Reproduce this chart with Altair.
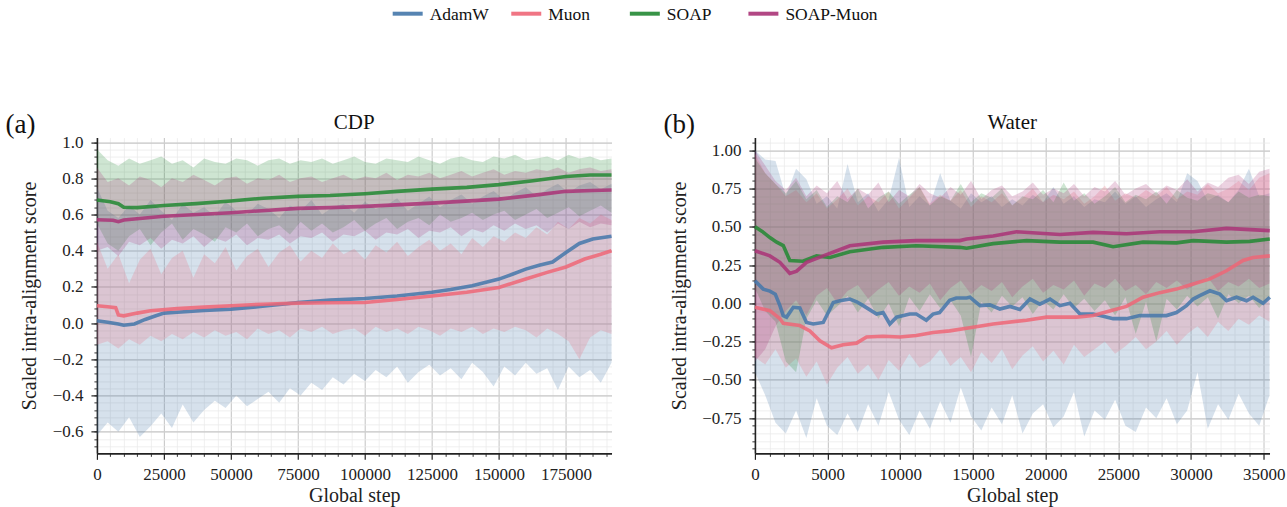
import altair as alt
import pandas as pd

SERIES = ["AdamW", "Muon", "SOAP", "SOAP-Muon"]
COLORS = ["#4477AA", "#EE6677", "#228833", "#AA3377"]
FONT = "Liberation Serif"

# ---------------- Panel (a): CDP ----------------
a_band_step = 4000
a_adamw_hi = [0.75, 0.62, 0.58, 0.65, 0.60, 0.68, 0.62, 0.57, 0.66, 0.61, 0.64, 0.59, 0.67, 0.62, 0.60, 0.66, 0.63, 0.58, 0.65, 0.62, 0.68, 0.60, 0.64, 0.66, 0.61, 0.67, 0.63, 0.65, 0.69, 0.62, 0.66, 0.70, 0.64, 0.68, 0.71, 0.66, 0.70, 0.73, 0.68, 0.72, 0.75, 0.70, 0.74, 0.77, 0.72, 0.76, 0.78, 0.74, 0.77]
a_adamw_lo = [-0.62, -0.55, -0.60, -0.52, -0.63, -0.57, -0.50, -0.58, -0.45, -0.55, -0.48, -0.43, -0.47, -0.40, -0.46, -0.42, -0.38, -0.44, -0.36, -0.40, -0.33, -0.37, -0.30, -0.34, -0.28, -0.32, -0.26, -0.30, -0.24, -0.33, -0.27, -0.23, -0.29, -0.25, -0.31, -0.22, -0.27, -0.35, -0.24, -0.29, -0.22, -0.28, -0.25, -0.37, -0.24, -0.30, -0.26, -0.33, -0.22]
a_muon_hi = [0.45, 0.30, 0.38, 0.22, 0.35, 0.41, 0.27, 0.36, 0.40, 0.25, 0.38, 0.33, 0.42, 0.29, 0.37, 0.41, 0.31, 0.39, 0.43, 0.34, 0.40, 0.36, 0.44, 0.38, 0.41, 0.35, 0.43, 0.39, 0.45, 0.37, 0.42, 0.46, 0.40, 0.44, 0.38, 0.47, 0.42, 0.48, 0.45, 0.50, 0.47, 0.53, 0.49, 0.56, 0.52, 0.58, 0.55, 0.60, 0.57]
a_muon_lo = [-0.12, -0.10, -0.14, -0.09, -0.12, -0.07, -0.10, -0.06, -0.09, -0.05, -0.08, -0.04, -0.07, -0.05, -0.09, -0.03, -0.06, -0.04, -0.08, -0.03, -0.05, -0.02, -0.06, -0.04, -0.03, -0.07, -0.02, -0.05, -0.03, -0.06, -0.02, -0.04, -0.07, -0.03, -0.05, -0.02, -0.06, -0.03, -0.05, -0.02, -0.04, -0.08, -0.03, -0.06, -0.10, -0.20, -0.08, -0.04, -0.06]
a_soap_hi = [0.96, 0.90, 0.87, 0.91, 0.88, 0.90, 0.92, 0.88, 0.90, 0.86, 0.91, 0.89, 0.88, 0.91, 0.90, 0.87, 0.90, 0.91, 0.88, 0.90, 0.89, 0.91, 0.88, 0.90, 0.92, 0.89, 0.88, 0.91, 0.90, 0.89, 0.92, 0.90, 0.88, 0.91, 0.92, 0.90, 0.89, 0.92, 0.91, 0.93, 0.90, 0.91, 0.92, 0.90, 0.93, 0.91, 0.92, 0.90, 0.91]
a_soap_lo = [0.55, 0.44, 0.40, 0.48, 0.52, 0.43, 0.50, 0.55, 0.46, 0.52, 0.49, 0.45, 0.53, 0.50, 0.55, 0.48, 0.52, 0.54, 0.49, 0.56, 0.51, 0.55, 0.50, 0.53, 0.57, 0.51, 0.55, 0.58, 0.52, 0.56, 0.58, 0.54, 0.60, 0.56, 0.58, 0.61, 0.57, 0.60, 0.62, 0.57, 0.60, 0.63, 0.58, 0.61, 0.64, 0.59, 0.62, 0.65, 0.61]
a_sm_hi = [0.86, 0.78, 0.80, 0.76, 0.81, 0.79, 0.75, 0.80, 0.78, 0.82, 0.79, 0.76, 0.80, 0.81, 0.77, 0.80, 0.79, 0.82, 0.78, 0.80, 0.81, 0.78, 0.80, 0.82, 0.79, 0.81, 0.80, 0.83, 0.79, 0.82, 0.81, 0.83, 0.80, 0.82, 0.84, 0.81, 0.83, 0.85, 0.82, 0.84, 0.83, 0.85, 0.84, 0.86, 0.83, 0.85, 0.86, 0.84, 0.85]
a_sm_lo = [0.40, 0.42, 0.37, 0.45, 0.43, 0.47, 0.41, 0.46, 0.44, 0.48, 0.42, 0.47, 0.45, 0.49, 0.43, 0.47, 0.46, 0.49, 0.44, 0.48, 0.47, 0.50, 0.45, 0.49, 0.48, 0.51, 0.46, 0.50, 0.49, 0.52, 0.47, 0.51, 0.50, 0.53, 0.48, 0.52, 0.50, 0.54, 0.51, 0.55, 0.52, 0.54, 0.50, 0.55, 0.52, 0.56, 0.53, 0.55, 0.54]

a_adamw_x = [0, 4000, 8000, 10000, 14000, 18000, 22000, 25000, 30000, 40000, 50000, 60000, 70000, 75000, 87000, 100000, 112000, 125000, 132000, 140000, 150000, 155000, 160000, 165000, 170000, 175000, 180000, 185000, 192000]
a_adamw_y = [0.013, 0.005, -0.005, -0.012, -0.005, 0.02, 0.04, 0.055, 0.06, 0.07, 0.077, 0.09, 0.105, 0.114, 0.127, 0.136, 0.15, 0.17, 0.185, 0.206, 0.243, 0.27, 0.298, 0.32, 0.337, 0.39, 0.44, 0.465, 0.48]
a_muon_x = [0, 4000, 7000, 8000, 10000, 15000, 20000, 30000, 40000, 50000, 62000, 75000, 87000, 100000, 112000, 125000, 138000, 150000, 160000, 168000, 175000, 182000, 188000, 192000]
a_muon_y = [0.096, 0.09, 0.085, 0.045, 0.04, 0.055, 0.068, 0.08, 0.088, 0.096, 0.104, 0.11, 0.112, 0.114, 0.13, 0.15, 0.17, 0.197, 0.243, 0.28, 0.31, 0.354, 0.38, 0.40]
a_soap_x = [0, 5000, 8000, 10000, 15000, 25000, 37000, 50000, 62000, 75000, 87000, 100000, 112000, 125000, 138000, 150000, 162000, 175000, 184000, 192000]
a_soap_y = [0.68, 0.67, 0.66, 0.64, 0.638, 0.65, 0.66, 0.675, 0.69, 0.70, 0.705, 0.715, 0.728, 0.74, 0.75, 0.765, 0.785, 0.81, 0.818, 0.818]
a_sm_x = [0, 6000, 8000, 10000, 25000, 50000, 75000, 87000, 100000, 125000, 150000, 165000, 175000, 185000, 192000]
a_sm_y = [0.571, 0.568, 0.56, 0.57, 0.59, 0.61, 0.634, 0.638, 0.645, 0.663, 0.685, 0.71, 0.728, 0.733, 0.735]

# ---------------- Panel (b): Water ----------------
b_band_step = 708
b_adamw_hi = [1.00, 0.94, 0.93, 0.70, 0.88, 0.81, 0.65, 0.70, 0.62, 0.91, 0.66, 0.72, 0.60, 0.68, 0.95, 0.63, 0.70, 0.64, 0.85, 0.67, 0.62, 0.72, 0.66, 0.70, 0.63, 0.68, 0.64, 0.71, 0.66, 0.76, 0.65, 0.70, 0.63, 0.68, 0.66, 0.73, 0.65, 0.70, 0.63, 0.68, 0.72, 0.66, 0.85, 0.80, 0.67, 0.71, 0.66, 0.74, 0.88, 0.70, 0.72]
b_adamw_lo = [-0.45, -0.60, -0.78, -0.85, -0.70, -0.88, -0.62, -0.80, -0.86, -0.72, -0.84, -0.66, -0.80, -0.58, -0.76, -0.86, -0.70, -0.82, -0.64, -0.78, -0.55, -0.74, -0.83, -0.68, -0.79, -0.60, -0.85, -0.72, -0.66, -0.81, -0.74, -0.58, -0.87, -0.70, -0.76, -0.63, -0.80, -0.84, -0.68, -0.75, -0.62, -0.79, -0.70, -0.45, -0.82, -0.66, -0.76, -0.59, -0.72, -0.80, -0.60]
b_muon_hi = [0.98, 0.85, 0.78, 0.70, 0.74, 0.66, 0.72, 0.62, 0.68, 0.75, 0.64, 0.70, 0.66, 0.73, 0.62, 0.69, 0.76, 0.65, 0.71, 0.67, 0.74, 0.63, 0.70, 0.66, 0.72, 0.64, 0.69, 0.75, 0.66, 0.71, 0.68, 0.73, 0.65, 0.70, 0.77, 0.67, 0.72, 0.69, 0.74, 0.70, 0.76, 0.68, 0.73, 0.71, 0.78, 0.72, 0.75, 0.80, 0.74, 0.82, 0.85]
b_muon_lo = [-0.35, -0.40, -0.30, -0.42, -0.36, -0.48, -0.38, -0.53, -0.42, -0.35, -0.46, -0.40, -0.50, -0.37, -0.44, -0.33, -0.42, -0.38, -0.30, -0.41, -0.35, -0.45, -0.32, -0.39, -0.30, -0.43, -0.34, -0.28, -0.38, -0.31, -0.40, -0.27, -0.35, -0.30, -0.25, -0.33, -0.28, -0.22, -0.30, -0.25, -0.18, -0.27, -0.20, -0.15, -0.22, -0.12, -0.18, -0.10, -0.14, -0.08, -0.12]
b_soap_hi = [0.95, 0.85, 0.78, 0.72, 0.80, 0.68, 0.74, 0.63, 0.70, 0.66, 0.75, 0.62, 0.69, 0.73, 0.65, 0.71, 0.76, 0.64, 0.70, 0.67, 0.78, 0.66, 0.72, 0.69, 0.75, 0.64, 0.70, 0.68, 0.74, 0.66, 0.79, 0.67, 0.72, 0.65, 0.70, 0.76, 0.66, 0.71, 0.68, 0.73, 0.65, 0.74, 0.69, 0.67, 0.72, 0.70, 0.66, 0.73, 0.69, 0.71, 0.70]
b_soap_lo = [0.10, -0.05, -0.12, -0.38, -0.45, -0.10, 0.02, -0.08, -0.02, 0.05, -0.06, 0.03, -0.10, 0.00, -0.15, 0.04, -0.05, 0.06, -0.03, 0.02, -0.08, -0.35, 0.01, -0.06, 0.05, -0.02, 0.04, -0.07, 0.02, -0.04, 0.06, -0.03, 0.03, -0.05, 0.02, -0.08, 0.04, -0.20, 0.01, -0.25, 0.03, -0.04, 0.05, -0.02, 0.04, -0.10, 0.06, 0.00, 0.05, -0.03, 0.04]
b_sm_hi = [1.00, 0.90, 0.80, 0.74, 0.82, 0.70, 0.77, 0.72, 0.80, 0.68, 0.75, 0.71, 0.79, 0.66, 0.74, 0.70, 0.78, 0.72, 0.69, 0.76, 0.71, 0.80, 0.68, 0.74, 0.77, 0.70, 0.73, 0.79, 0.71, 0.75, 0.72, 0.78, 0.70, 0.76, 0.73, 0.80, 0.71, 0.75, 0.78, 0.72, 0.77, 0.74, 0.81, 0.73, 0.79, 0.76, 0.82, 0.84, 0.78, 0.86, 0.88]
b_sm_lo = [-0.38, -0.30, -0.15, -0.05, 0.02, -0.08, 0.05, 0.10, 0.00, 0.08, 0.12, 0.03, 0.09, 0.14, 0.05, 0.11, 0.07, 0.13, 0.02, 0.10, 0.15, 0.06, 0.12, 0.08, 0.14, 0.04, 0.11, 0.16, 0.07, 0.12, 0.09, 0.15, 0.05, 0.13, 0.10, 0.16, 0.08, 0.12, 0.06, 0.14, 0.10, 0.15, 0.09, 0.13, 0.17, 0.08, 0.14, 0.11, 0.16, 0.10, 0.13]

b_adamw_x = [0, 570, 1030, 1400, 1720, 1950, 2180, 2640, 3090, 3550, 4010, 4700, 5390, 5850, 6530, 7000, 7450, 8370, 8820, 9280, 9740, 10650, 11100, 11790, 12250, 12700, 13400, 13850, 14560, 14790, 15480, 16160, 16850, 17540, 18230, 18920, 19600, 20300, 20980, 21670, 22360, 23270, 23960, 24640, 25560, 26480, 27400, 28310, 29000, 29690, 30150, 30600, 31300, 31980, 32440, 33130, 33820, 34270, 34960, 35420]
b_adamw_y = [0.148, 0.093, 0.08, 0.06, -0.015, -0.08, -0.09, -0.026, -0.03, -0.125, -0.135, -0.125, 0.006, 0.017, 0.028, 0.01, -0.015, -0.07, -0.06, -0.135, -0.09, -0.07, -0.07, -0.11, -0.07, -0.06, 0.02, 0.035, 0.035, 0.04, -0.015, -0.01, -0.037, -0.02, -0.04, 0.028, -0.005, 0.028, -0.015, 0.0, -0.07, -0.07, -0.085, -0.10, -0.10, -0.08, -0.08, -0.08, -0.06, -0.015, 0.028, 0.05, 0.082, 0.06, 0.017, 0.04, 0.017, 0.04, 0.0, 0.04]
b_muon_x = [0, 1030, 1720, 1950, 3090, 3780, 4470, 5270, 6070, 6990, 7680, 8820, 9970, 11100, 12250, 13400, 14780, 16390, 18690, 20060, 22130, 23270, 24400, 25560, 26700, 27850, 29000, 30150, 31300, 32440, 33580, 34270, 35420]
b_muon_y = [-0.026, -0.048, -0.1, -0.13, -0.145, -0.18, -0.245, -0.29, -0.27, -0.26, -0.22, -0.215, -0.22, -0.21, -0.19, -0.18, -0.16, -0.135, -0.11, -0.09, -0.09, -0.08, -0.05, -0.02, 0.04, 0.07, 0.093, 0.126, 0.16, 0.213, 0.28, 0.30, 0.31]
b_soap_x = [0, 500, 1030, 1500, 1950, 2400, 3300, 3700, 4240, 5160, 6530, 8820, 11100, 14100, 14560, 16390, 18690, 20980, 23270, 24640, 26700, 29000, 30150, 32440, 34040, 35420]
b_soap_y = [0.50, 0.47, 0.43, 0.40, 0.377, 0.28, 0.275, 0.29, 0.31, 0.30, 0.337, 0.366, 0.376, 0.366, 0.36, 0.39, 0.41, 0.40, 0.40, 0.37, 0.40, 0.395, 0.41, 0.40, 0.405, 0.42]
b_sm_x = [0, 1030, 1720, 2400, 2870, 3550, 4700, 6530, 8820, 11100, 14100, 14560, 16390, 18000, 20980, 23270, 25560, 27850, 30150, 32440, 35420]
b_sm_y = [0.344, 0.31, 0.268, 0.196, 0.21, 0.268, 0.31, 0.376, 0.40, 0.41, 0.41, 0.42, 0.44, 0.468, 0.45, 0.464, 0.455, 0.468, 0.468, 0.49, 0.475]

# ---------------- axis ticks ----------------
a_xmajor = [0, 25000, 50000, 75000, 100000, 125000, 150000, 175000]
a_xminor = [v for v in range(0, 192001, 5000) if v % 25000 != 0]
a_ymajor = [-0.6, -0.4, -0.2, 0.0, 0.2, 0.4, 0.6, 0.8, 1.0]
a_yminor = [round(-0.68 + 0.04 * i, 2) for i in range(43)]
b_xmajor = [0, 5000, 10000, 15000, 20000, 25000, 30000, 35000]
b_xminor = [v for v in range(0, 35001, 1000) if v % 5000 != 0]
b_ymajor = [-0.75, -0.5, -0.25, 0.0, 0.25, 0.5, 0.75, 1.0]
b_yminor = [round(-0.95 + 0.05 * i, 2) for i in range(41)]


def band_frame(step, his, los):
    rows = []
    for name, hi, lo in zip(SERIES, his, los):
        assert len(hi) == len(lo), name
        for i, (h, l) in enumerate(zip(hi, lo)):
            rows.append({"series": name, "step": i * step, "hi": h, "lo": l})
    return pd.DataFrame(rows)


def line_frame(xs, ys):
    rows = []
    for name, x, y in zip(SERIES, xs, ys):
        assert len(x) == len(y), name
        for a, b in zip(x, y):
            rows.append({"series": name, "step": a, "value": b})
    return pd.DataFrame(rows)


color_scale = alt.Scale(domain=SERIES, range=COLORS)
W, H = 515, 316


def legend_layers():
    # legend drawn with the library's own point scale over the series names
    df = pd.DataFrame({"series": SERIES})
    lx = alt.X("series:N", scale=alt.Scale(type="point", domain=SERIES, range=[311, 667], padding=0),
               axis=None)
    sym = alt.Chart(df).mark_tick(orient="horizontal", size=30, thickness=4, opacity=0.9).encode(
        x=lx, y=alt.value(-124), color=alt.Color("series:N", scale=color_scale, legend=None)
    )
    txt = alt.Chart(df).mark_text(font=FONT, fontSize=17.5, align="left", baseline="middle",
                                   dx=22, dy=1, color="#111").encode(
        x=lx, y=alt.value(-124), text="series:N"
    )
    return [sym, txt]


def panel(bands, lines, xdom, ydom, xmaj, xmin, ymaj, ymin, yfmt, title, letter, with_legend, ytp):
    xs = alt.Scale(domain=xdom, nice=False, zero=False)
    ys = alt.Scale(domain=ydom, nice=False, zero=False)
    minor_x = alt.Axis(orient="bottom", values=xmin, grid=True, gridColor="#ebebeb", gridWidth=0.8,
                       labels=False, ticks=True, tickSize=3, tickColor="#333", tickWidth=1,
                       domain=False, title=None)
    minor_y = alt.Axis(orient="left", values=ymin, grid=True, gridColor="#ebebeb", gridWidth=0.8,
                       labels=False, ticks=True, tickSize=3, tickColor="#333", tickWidth=1,
                       domain=False, title=None)
    major_x = alt.Axis(orient="bottom", values=xmaj, grid=True, gridColor="#c8c8c8", gridWidth=1.1,
                       tickSize=6, tickColor="#222", tickWidth=1.2, domainColor="#222", domainWidth=1.6,
                       labelFont=FONT, labelFontSize=17, labelColor="#222", labelPadding=7,
                       labelFlush=False, format="d",
                       title="Global step", titleFont=FONT, titleFontSize=20, titleFontWeight="normal",
                       titleColor="#222", titlePadding=3)
    major_y = alt.Axis(orient="left", values=ymaj, grid=True, gridColor="#c8c8c8", gridWidth=1.1,
                       tickSize=6, tickColor="#222", tickWidth=1.2, domainColor="#222", domainWidth=1.6,
                       labelFont=FONT, labelFontSize=17, labelColor="#222", labelPadding=8,
                       labelFlush=False, format=yfmt,
                       title="Scaled intra-alignment score", titleFont=FONT, titleFontSize=20,
                       titleFontWeight="normal", titleColor="#222", titlePadding=ytp)
    band_layer = alt.Chart(bands).mark_area(fillOpacity=0.22, interpolate="linear").encode(
        x=alt.X("step:Q", scale=xs, axis=minor_x),
        y=alt.Y("lo:Q", scale=ys, axis=minor_y),
        y2="hi:Q",
        fill=alt.Fill("series:N", scale=color_scale, legend=None),
    )
    line_layer = alt.Chart(lines).mark_line(strokeWidth=3.6, strokeOpacity=0.85).encode(
        x=alt.X("step:Q", scale=xs, axis=major_x),
        y=alt.Y("value:Q", scale=ys, axis=major_y),
        color=alt.Color("series:N", scale=color_scale, legend=None),
    )
    letter_layer = alt.Chart(pd.DataFrame({"t": [letter]})).mark_text(
        font=FONT, fontSize=27, align="left", baseline="alphabetic", color="#111"
    ).encode(text="t:N", x=alt.value(-91.5), y=alt.value(-5))
    title_layer = alt.Chart(pd.DataFrame({"t": [title]})).mark_text(
        font=FONT, fontSize=21, align="center", baseline="alphabetic", color="#111"
    ).encode(text="t:N", x=alt.value(W / 2), y=alt.value(-9))
    layers = [band_layer, line_layer, letter_layer, title_layer]
    if with_legend:
        layers += legend_layers()
    return alt.layer(*layers).resolve_scale(x="independent").resolve_axis(
        x="independent", y="independent"
    ).properties(width=W, height=H)


pa = panel(band_frame(a_band_step, [a_adamw_hi, a_muon_hi, a_soap_hi, a_sm_hi],
                      [a_adamw_lo, a_muon_lo, a_soap_lo, a_sm_lo]),
           line_frame([a_adamw_x, a_muon_x, a_soap_x, a_sm_x], [a_adamw_y, a_muon_y, a_soap_y, a_sm_y]),
           [0, 192000], [-0.72, 1.025], a_xmajor, a_xminor, a_ymajor, a_yminor, ".1f", "CDP", "(a)",
           True, 13)
pb = panel(band_frame(b_band_step, [b_adamw_hi, b_muon_hi, b_soap_hi, b_sm_hi],
                      [b_adamw_lo, b_muon_lo, b_soap_lo, b_sm_lo]),
           line_frame([b_adamw_x, b_muon_x, b_soap_x, b_sm_x], [b_adamw_y, b_muon_y, b_soap_y, b_sm_y]),
           [0, 35400], [-0.98, 1.083], b_xmajor, b_xminor, b_ymajor, b_yminor, ".2f", "Water", "(b)",
           False, 12)

chart = alt.hconcat(pa, pb, spacing=143.5, bounds="flush").configure_view(stroke=None).properties(
    padding={"left": 5, "top": 5.5, "right": 2, "bottom": 2}, background="white"
)

chart.save("out.html", embed_options={"renderer": "svg", "actions": False})
